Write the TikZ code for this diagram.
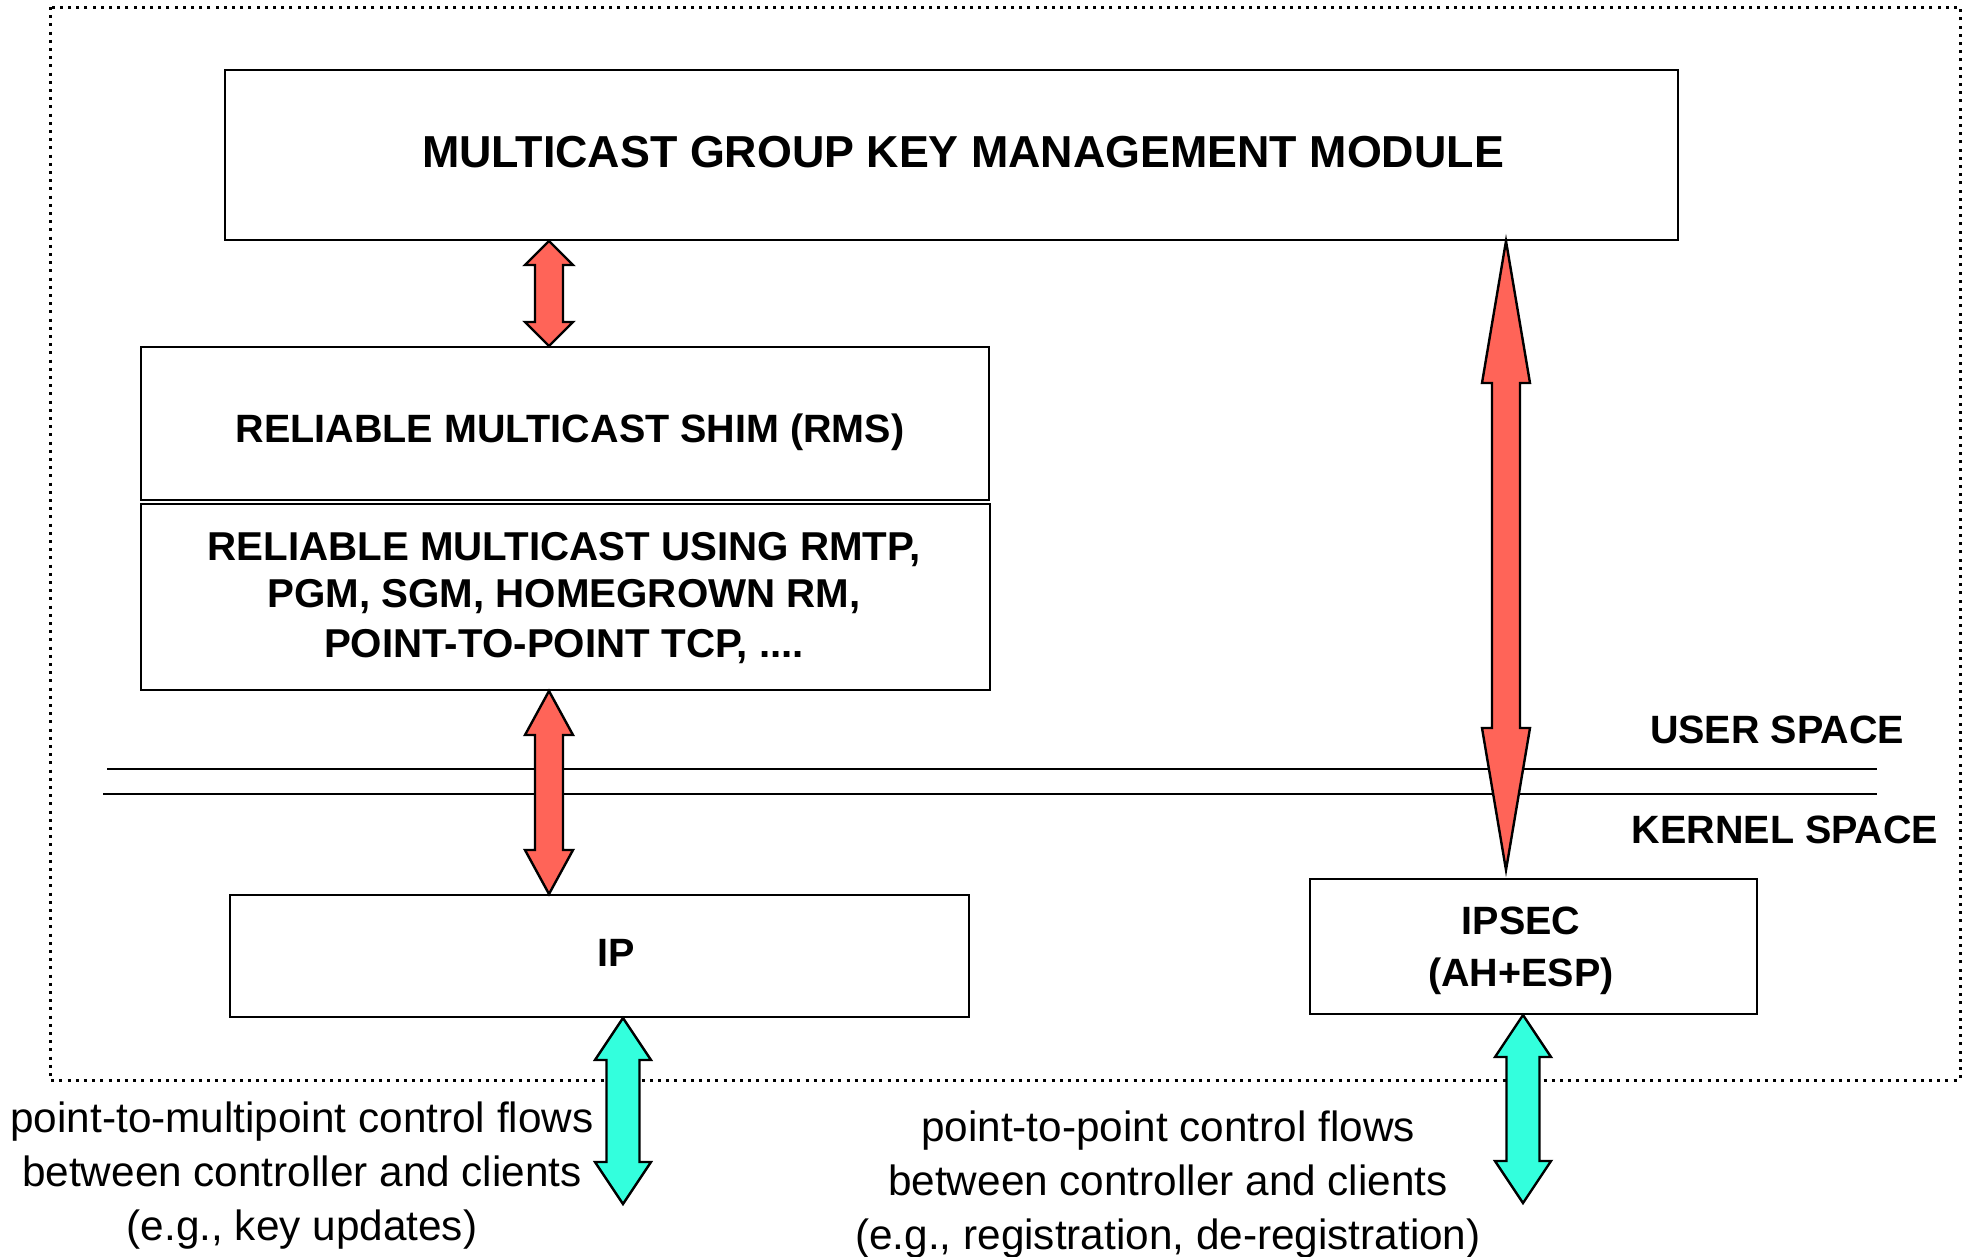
\documentclass[tikz,border=0pt]{standalone}
\usepackage{fontspec}
\setmainfont{Liberation Sans}
\usetikzlibrary{calc}
\definecolor{arrred}{RGB}{255,100,88}
\definecolor{arrcyan}{RGB}{51,255,221}
\newcommand\vdarrow[6]{%
  \draw[fatarrow, fill=#6] (#1) -- ($(#1)+(#3,#5)$) -- ($(#1)+(#4,#5)$)
    -- ($(#2)+(#4,-#5)$) -- ($(#2)+(#3,-#5)$) -- (#2)
    -- ($(#2)+(-#3,-#5)$) -- ($(#2)+(-#4,-#5)$)
    -- ($(#1)+(-#4,#5)$) -- ($(#1)+(-#3,#5)$) -- cycle;}
\begin{document}
\begin{tikzpicture}[x=1pt,y=-1pt,
  box/.style={draw, line width=2pt, inner sep=0pt},
  fatarrow/.style={draw, line width=2.4pt, line join=miter},
  captxt/.style={font=\bfseries\fontsize{39.5}{47}\selectfont, anchor=base, inner sep=0pt},
  boxtxt/.style={font=\bfseries\fontsize{40.3}{47}\selectfont, anchor=base, inner sep=0pt},
  titletxt/.style={font=\bfseries\fontsize{44.8}{50}\selectfont, anchor=base, inner sep=0pt},
  flowtxt/.style={font=\fontsize{42.3}{54}\selectfont, anchor=base, inner sep=0pt},
  sepline/.style={line width=2pt}]
\useasboundingbox (0,0) rectangle (1971,1256);
% outer dotted frame
\draw[line width=3pt, dash pattern=on 3pt off 5.2pt] (50,7) rectangle (1960,1080);
% boxes
\node[box, minimum width=1453pt, minimum height=170pt] (mgkm) at (951.5,155) {};
\node[box, minimum width=848pt, minimum height=153pt] (rms) at (565,423.5) {};
\node[box, minimum width=849pt, minimum height=186pt] (rml) at (565.5,597) {};
\node[box, minimum width=739pt, minimum height=122pt] (ip) at (599.5,956) {};
\node[box, minimum width=447pt, minimum height=135pt] (ipsec) at (1533.5,946.5) {};
% texts
\node[titletxt] (t1) at (963,167) {MULTICAST GROUP KEY MANAGEMENT MODULE};
\node[captxt] (t2) at (570,442) {RELIABLE MULTICAST SHIM (RMS)};
\node[boxtxt] (t3a) at (564,560) {RELIABLE MULTICAST USING RMTP,};
\node[boxtxt] (t3b) at (564,607) {PGM, SGM, HOMEGROWN RM,};
\node[boxtxt] (t3c) at (564,657) {POINT-TO-POINT TCP, ....};
\node[captxt] (t4) at (616,966) {IP};
\node[captxt] (t5a) at (1521,934) {IPSEC};
\node[captxt] (t5b) at (1521,986) {(AH+ESP)};
\node[captxt] (us) at (1777,743) {USER SPACE};
\node[captxt] (ks) at (1785,843) {KERNEL SPACE};
% separator lines
\coordinate (l1a) at (107,769); \coordinate (l1b) at (1877,769);
\coordinate (l2a) at (103,794); \coordinate (l2b) at (1877,794);
\draw[sepline] (l1a) -- (l1b);
\draw[sepline] (l2a) -- (l2b);
% flow texts
\node[flowtxt] (f1a) at (302,1132) {point-to-multipoint control flows};
\node[flowtxt] (f1b) at (302,1186) {between controller and clients};
\node[flowtxt] (f1c) at (302,1240) {(e.g., key updates)};
\node[flowtxt] (f2a) at (1168,1141) {point-to-point control flows};
\node[flowtxt] (f2b) at (1168,1195) {between controller and clients};
\node[flowtxt] (f2c) at (1168,1249) {(e.g., registration, de-registration)};
% arrows
\coordinate (a1t) at (549,0 |- mgkm.south);
\coordinate (a1b) at (549,0 |- rms.north);
\coordinate (a2t) at (549,0 |- rml.south);
\coordinate (a2b) at (549,0 |- ip.north);
\coordinate (a3t) at (1506,0 |- mgkm.south);
\coordinate (a3b) at (1506,870);
\coordinate (c1t) at (623,0 |- ip.south);
\coordinate (c1b) at (623,1204);
\coordinate (c2t) at (1523,0 |- ipsec.south);
\coordinate (c2b) at (1523,1203);
\vdarrow{a1t}{a1b}{24}{14}{24}{arrred}
\vdarrow{a2t}{a2b}{24}{14}{44}{arrred}
\vdarrow{a3t}{a3b}{24}{14}{142}{arrred}
\vdarrow{c1t}{c1b}{28}{16.5}{42}{arrcyan}
\vdarrow{c2t}{c2b}{28}{16.5}{42}{arrcyan}
\end{tikzpicture}
\end{document}
